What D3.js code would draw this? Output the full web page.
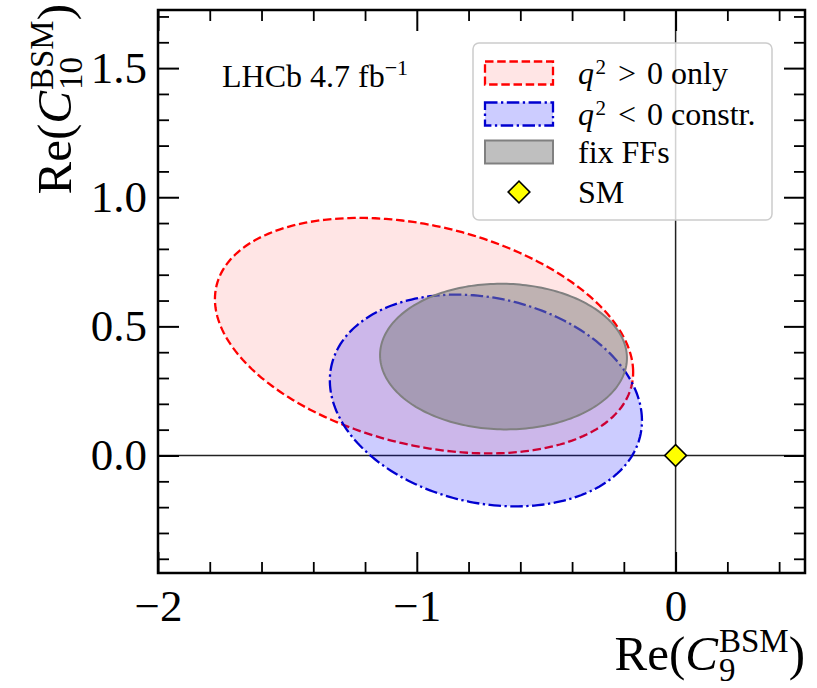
<!DOCTYPE html>
<html>
<head>
<meta charset="utf-8">
<script src="https://cdn.jsdelivr.net/npm/d3@7"></script>
<style>
  html, body { margin: 0; padding: 0; background: #fff; }
  svg { display: block; }
  text { font-family: "Liberation Serif", "DejaVu Serif", serif; fill: #000; }
</style>
</head>
<body>
<svg id="chart" width="817" height="688"></svg>
<script>
// ---------------- data ----------------
const regionNames = ["q2 > 0 only", "q2 < 0 constr.", "fix FFs"];
const centerC9  = [-0.972, -0.733, -0.665];
const centerC10 = [0.464, 0.213, 0.383];
const halfWidthC9  = [0.808, 0.603, 0.477];
const halfHeightC10 = [0.456, 0.410, 0.282];
const correlation = [-0.31, -0.19, -0.02];

const smPoint = [0, 0];

const xDomain = [-2, 0.5];
const yDomain = [-0.455, 1.725];
const xMajorTicks = [-2, -1, 0];
const xTickLabels = ["\u22122", "\u22121", "0"];
const xMinorTicks = [-1.8, -1.6, -1.4, -1.2, -0.8, -0.6, -0.4, -0.2, 0.2, 0.4];
const yMajorTicks = [0.0, 0.5, 1.0, 1.5];
const yTickLabels = ["0.0", "0.5", "1.0", "1.5"];
const yMinorTicks = [-0.4, -0.3, -0.2, -0.1, 0.1, 0.2, 0.3, 0.4, 0.6, 0.7, 0.8, 0.9, 1.1, 1.2, 1.3, 1.4, 1.6, 1.7];

// ---------------- layout ----------------
const L = 158, R = 805, T = 10, B = 573;
const svg = d3.select("#chart");
const x = d3.scaleLinear().domain(xDomain).range([L, R]);
const y = d3.scaleLinear().domain(yDomain).range([B, T]);

const styles = [
  { fill: "#ff0000", fillOpacity: 0.1, stroke: "#ff0000", dash: "8.5,3.7", width: 2.3 },
  { fill: "#0000ff", fillOpacity: 0.2, stroke: "#0000d0", dash: "12.5,3.5,2.3,3.5", width: 2.3 },
  { fill: "#808080", fillOpacity: 0.5, stroke: "#808080", dash: null, width: 2 }
];

// reference lines
svg.append("line").attr("x1", x(0)).attr("x2", x(0)).attr("y1", T).attr("y2", B)
  .attr("stroke", "#222").attr("stroke-width", 1.5);
svg.append("line").attr("x1", L).attr("x2", R).attr("y1", y(0)).attr("y2", y(0))
  .attr("stroke", "#222").attr("stroke-width", 1.5);

// ellipses
function ellipsePoints(i) {
  const phi = Math.acos(correlation[i]);
  const pts = [];
  const n = 240;
  for (let k = 0; k < n; k++) {
    const t = 2 * Math.PI * k / n;
    pts.push([x(centerC9[i] + halfWidthC9[i] * Math.cos(t)),
              y(centerC10[i] + halfHeightC10[i] * Math.cos(t - phi))]);
  }
  return pts;
}
const lineGen = d3.line().curve(d3.curveLinearClosed);
svg.append("clipPath").attr("id", "plotclip")
  .append("rect").attr("x", L).attr("y", T).attr("width", R - L).attr("height", B - T);
const gE = svg.append("g").attr("clip-path", "url(#plotclip)");
regionNames.forEach((name, i) => {
  const s = styles[i];
  const p = lineGen(ellipsePoints(i));
  gE.append("path").attr("d", p).attr("fill", s.fill).attr("fill-opacity", s.fillOpacity).attr("stroke", "none");
  gE.append("path").attr("d", p).attr("fill", "none").attr("stroke", s.stroke)
    .attr("stroke-width", s.width).attr("stroke-dasharray", s.dash);
});

// SM point
function drawDiamond(parent, cx, cy) {
  parent.append("path")
    .attr("d", d3.symbol().type(d3.symbolSquare).size(235)())
    .attr("transform", `translate(${cx},${cy}) rotate(45)`)
    .attr("fill", "#ffff00").attr("stroke", "#000").attr("stroke-width", 1.6);
}
drawDiamond(svg, x(smPoint[0]), y(smPoint[1]));

// axes (inward ticks on all four sides)
const fontTick = 45;
function styleAxis(g, w) {
  g.select(".domain").remove();
  g.selectAll(".tick line").attr("stroke", "#000").attr("stroke-width", w || 2);
  g.selectAll(".tick text").attr("font-size", fontTick).attr("font-family", "Liberation Serif, serif");
}
styleAxis(svg.append("g").attr("transform", `translate(0,${B})`)
  .call(d3.axisBottom(x).tickValues(xMajorTicks).tickFormat((d, i) => xTickLabels[i]).tickSize(-21).tickPadding(16)));
styleAxis(svg.append("g").attr("transform", `translate(0,${B})`)
  .call(d3.axisBottom(x).tickValues(xMinorTicks).tickFormat("").tickSize(-11)), 1.8);
styleAxis(svg.append("g").attr("transform", `translate(0,${T})`)
  .call(d3.axisTop(x).tickValues(xMajorTicks).tickFormat("").tickSize(-21)));
styleAxis(svg.append("g").attr("transform", `translate(0,${T})`)
  .call(d3.axisTop(x).tickValues(xMinorTicks).tickFormat("").tickSize(-11)), 1.8);
styleAxis(svg.append("g").attr("transform", `translate(${L},0)`)
  .call(d3.axisLeft(y).tickValues(yMajorTicks).tickFormat((d, i) => yTickLabels[i]).tickSize(-21).tickPadding(11)));
styleAxis(svg.append("g").attr("transform", `translate(${L},0)`)
  .call(d3.axisLeft(y).tickValues(yMinorTicks).tickFormat("").tickSize(-11)), 1.8);
styleAxis(svg.append("g").attr("transform", `translate(${R},0)`)
  .call(d3.axisRight(y).tickValues(yMajorTicks).tickFormat("").tickSize(-21)));
styleAxis(svg.append("g").attr("transform", `translate(${R},0)`)
  .call(d3.axisRight(y).tickValues(yMinorTicks).tickFormat("").tickSize(-11)), 1.8);

// frame
svg.append("rect").attr("x", L).attr("y", T).attr("width", R - L).attr("height", B - T)
  .attr("fill", "none").attr("stroke", "#000").attr("stroke-width", 2.5);

// LHCb label
const lhcb = svg.append("text").attr("x", 222).attr("y", 87).attr("font-size", 32);
lhcb.append("tspan").text("LHCb 4.7 fb");
lhcb.append("tspan").attr("dy", -12).attr("font-size", 22).text("\u22121");

// legend
const lg = svg.append("g");
lg.append("rect").attr("x", 473).attr("y", 43).attr("width", 299).attr("height", 177)
  .attr("rx", 6).attr("fill", "#fff").attr("fill-opacity", 0.8)
  .attr("stroke", "#cccccc").attr("stroke-width", 1.5);
const rowY = [73, 114, 152, 192];
const fontLeg = 32;
regionNames.forEach((name, i) => {
  const s = styles[i];
  lg.append("rect").attr("x", 485).attr("y", rowY[i] - 11.5).attr("width", 68).attr("height", 23)
    .attr("fill", s.fill).attr("fill-opacity", s.fillOpacity)
    .attr("stroke", s.stroke).attr("stroke-width", s.width).attr("stroke-dasharray", s.dash);
});
function legText(i) {
  return lg.append("text").attr("x", 578).attr("y", rowY[i] + 11).attr("font-size", fontLeg);
}
function mathRow(i, rel, rest) {
  const t = legText(i);
  t.append("tspan").attr("font-style", "italic").text("q");
  t.append("tspan").attr("dx", 1.5).attr("dy", -10).attr("font-size", 21).text("2");
  t.append("tspan").attr("dx", 12).attr("dy", 10).text(rel);
  t.append("tspan").attr("dx", 11).text("0");
  t.append("tspan").text(rest);
}
mathRow(0, ">", "\u00a0only");
mathRow(1, "<", "\u00a0constr.");
legText(2).text("fix FFs");
legText(3).text("SM");
drawDiamond(lg, 519, rowY[3]);

// axis titles
function axisTitle(sel, sub) {
  sel.append("tspan").text("Re(");
  sel.append("tspan").attr("font-style", "italic").text("C");
  const sup = sel.append("tspan").attr("dx", 1).attr("dy", -18).attr("font-size", 33).text("BSM");
  const supW = sup.node().getComputedTextLength();
  const sb = sel.append("tspan").attr("dx", -supW).attr("dy", 29).attr("font-size", 33).text(sub);
  const sbW = sb.node().getComputedTextLength();
  sel.append("tspan").attr("dx", Math.max(0, supW - sbW)).attr("dy", -11).text(")");
}
const xTitle = svg.append("text").attr("x", 805).attr("y", 670).attr("text-anchor", "end").attr("font-size", 49);
axisTitle(xTitle, "9");
const yTitle = svg.append("text").attr("transform", "translate(71,4) rotate(-90)").attr("text-anchor", "end").attr("font-size", 49);
axisTitle(yTitle, "10");
</script>
</body>
</html>
